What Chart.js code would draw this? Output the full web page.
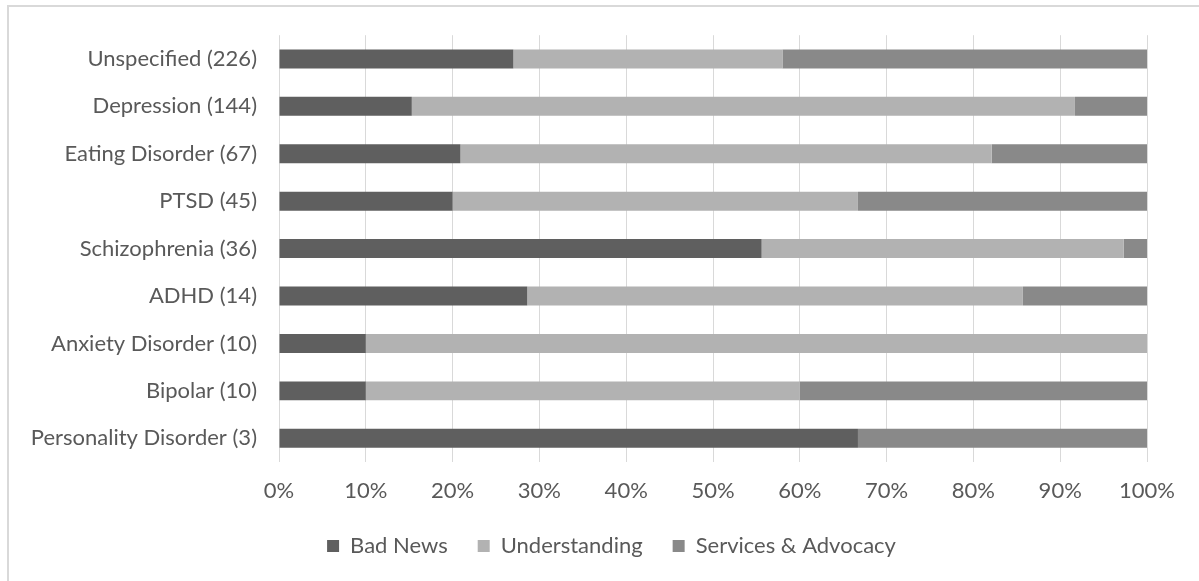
<!DOCTYPE html>
<html><head><meta charset="utf-8">
<script src="https://cdn.jsdelivr.net/npm/chart.js@4/dist/chart.umd.min.js"></script>
<style>html,body{margin:0;padding:0;overflow:hidden;background:#fff;width:1199px;height:581px}canvas{display:block}</style>
</head><body>
<canvas id="c" width="1199" height="581"></canvas>
<script>
const categories = ['Unspecified (226)', 'Depression (144)', 'Eating Disorder (67)', 'PTSD (45)', 'Schizophrenia (36)', 'ADHD (14)', 'Anxiety Disorder (10)', 'Bipolar (10)', 'Personality Disorder (3)'];
const badNews = [27.0, 15.3, 20.9, 20.0, 55.6, 28.6, 10.0, 10.0, 66.7];
const understanding = [31.0, 76.4, 61.2, 46.7, 41.7, 57.1, 90.0, 50.0, 0.0];
const servicesAdvocacy = [42.0, 8.3, 17.9, 33.3, 2.7, 14.3, 0.0, 40.0, 33.3];
const seriesNames = ['Bad News', 'Understanding', 'Services & Advocacy'];
const xTickLabels = ['0%', '10%', '20%', '30%', '40%', '50%', '60%', '70%', '80%', '90%', '100%'];

const FONT = 'Lato';
const TEXT = '#595959';

const frame = {
  id: 'frame',
  beforeDraw(chart) {
    const ctx = chart.ctx;
    ctx.save();
    ctx.fillStyle = '#d9d9d9';
    ctx.fillRect(7, 5, 2, chart.height);
    ctx.fillRect(7, 5, chart.width, 2);
    ctx.restore();
  }
};

const legendShift = {
  id: 'legendShift',
  afterLayout(chart) {
    if (chart.legend) {
      chart.legend.left += 32;
      chart.legend.right += 32;
    }
  }
};

new Chart(document.getElementById('c'), {
  type: 'bar',
  data: {
    labels: categories,
    datasets: [
      { label: seriesNames[0], data: badNews, backgroundColor: '#5f5f5f', borderWidth: 0 },
      { label: seriesNames[1], data: understanding, backgroundColor: '#b2b2b2', borderWidth: 0 },
      { label: seriesNames[2], data: servicesAdvocacy, backgroundColor: '#898989', borderWidth: 0 }
    ]
  },
  options: {
    indexAxis: 'y',
    responsive: false,
    animation: false,
    categoryPercentage: 1,
    barPercentage: 0.4,
    layout: { padding: { top: 34, left: 12, right: 52, bottom: 14 } },
    scales: {
      x: {
        stacked: true,
        min: 0, max: 100,
        afterFit: s => { s.height = 43; },
        ticks: {
          stepSize: 10,
          padding: 16,
          color: TEXT,
          font: { family: FONT, size: 22 },
          callback: (v, i) => xTickLabels[i]
        },
        grid: { color: '#d9d9d9', lineWidth: 1, drawTicks: false },
        border: { display: false }
      },
      y: {
        stacked: true,
        afterFit: s => { s.width = 267; },
        ticks: {
          autoSkip: false,
          padding: 22,
          color: TEXT,
          font: { family: FONT, size: 22 }
        },
        grid: { display: false, drawTicks: false },
        border: { display: false }
      }
    },
    plugins: {
      tooltip: { enabled: false },
      legend: {
        position: 'bottom',
        labels: {
          boxWidth: 12,
          boxHeight: 12,
          padding: 30,
          color: TEXT,
          font: { family: FONT, size: 22 }
        }
      }
    }
  },
  plugins: [frame, legendShift]
});
</script>
</body></html>
